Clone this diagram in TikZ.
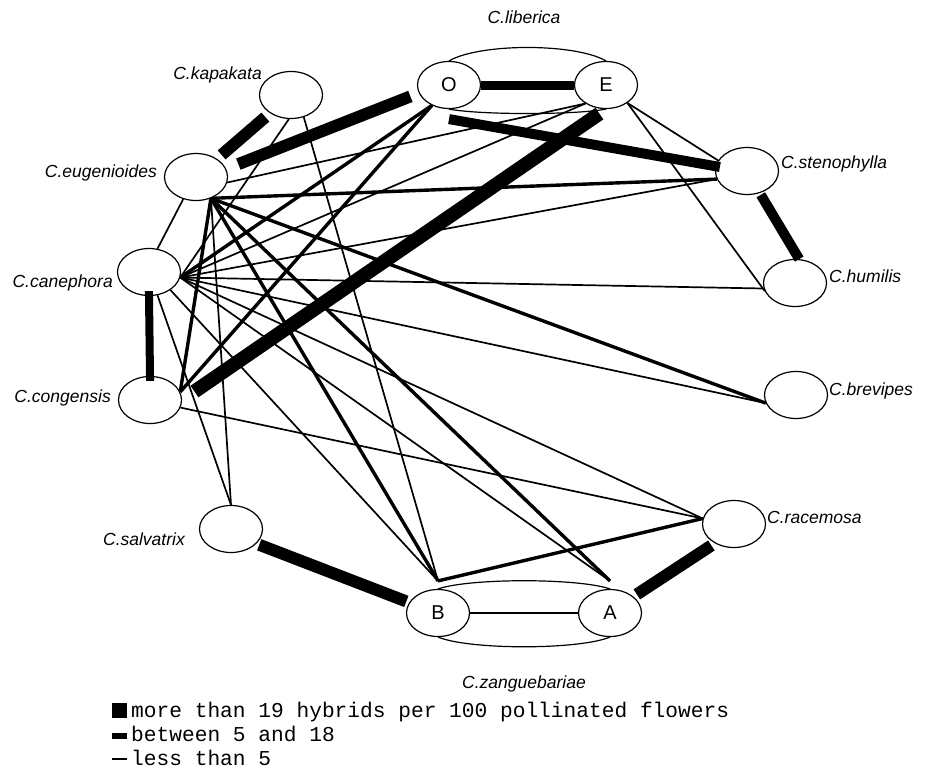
\documentclass[tikz,border=0pt]{standalone}
\usepackage{fontspec}
\usetikzlibrary{shapes.geometric,backgrounds}
\newfontfamily\labfont{Liberation Sans}
\newfontfamily\keyfont{Liberation Mono}

\begin{document}
\begin{tikzpicture}[x=1pt, y=-1pt,
  sp/.style={draw, ellipse, minimum width=63pt, minimum height=47pt, inner sep=0pt,
    line width=1.2pt, fill=white, font=\labfont\fontsize{20}{20}\selectfont},
  lab/.style={inner sep=0pt, font=\labfont\itshape\fontsize{17.5}{17.5}\selectfont},
  key/.style={inner sep=0pt, anchor=base west, font=\keyfont\fontsize{21.2}{21.2}\selectfont},
  grp/.style={line width=1.2pt},
  lowhyb/.style={line width=1.7pt},
  midhyb/.style={line width=3.4pt},
  highhyb/.style={line width=11pt},
]
\useasboundingbox (0,0) rectangle (933,779);

% --- Species (ellipses) ---
\node[sp] (kapakata) at (291,95) {};
\node[sp] (O) at (449,85) {O};
\node[sp] (E) at (606,85) {E};
\node[sp] (eugenioides) at (196,177) {};
\node[sp] (canephora) at (149,272) {};
\node[sp] (congensis) at (150,400) {};
\node[sp] (salvatrix) at (231,529) {};
\node[sp] (B) at (438,613) {B};
\node[sp] (A) at (610,613) {A};
\node[sp] (racemosa) at (734,524) {};
\node[sp] (brevipes) at (796,395) {};
\node[sp] (humilis) at (795,283) {};
\node[sp] (stenophylla) at (747,171) {};

\coordinate (B-in) at ([yshift=8pt]B.north);
\coordinate (A-in) at ([yshift=8pt]A.north);

% --- Labels ---
\node[lab, anchor=base] (liberica-lab) at (524,23) {C.liberica};
\node[lab, anchor=base east] (kapakata-lab) at (262,79) {C.kapakata};
\node[lab, anchor=base east] (eugenioides-lab) at (157,177) {C.eugenioides};
\node[lab, anchor=base east] (canephora-lab) at (113,287) {C.canephora};
\node[lab, anchor=base east] (congensis-lab) at (111,402) {C.congensis};
\node[lab, anchor=base east] (salvatrix-lab) at (185,545) {C.salvatrix};
\node[lab, anchor=base west] (stenophylla-lab) at (781,168) {C.stenophylla};
\node[lab, anchor=base west] (humilis-lab) at (829,282) {C.humilis};
\node[lab, anchor=base west] (brevipes-lab) at (829,395) {C.brevipes};
\node[lab, anchor=base west] (racemosa-lab) at (767,523) {C.racemosa};
\node[lab, anchor=base] (zanguebariae-lab) at (524,688) {C.zanguebariae};

\begin{pgfonlayer}{background}
% --- Group outlines ---
\draw[grp] (O.north) .. controls (480,43) and (575,43) .. (E.north);
\draw[grp] (O.south) .. controls (480,115) and (575,115) .. (E.south);
\draw[grp] (B.north) .. controls (470,578) and (578,578) .. (A.north);
\draw[grp] (B.south) .. controls (470,650) and (578,650) .. (A.south);

% --- Between 5 and 18 ---
\draw[midhyb] (eugenioides.305) -- (stenophylla.195);
\draw[midhyb] (eugenioides.305) -- (brevipes.195);
\draw[midhyb] (eugenioides.305) -- (A-in);
\draw[midhyb] (eugenioides.305) -- (B-in);
\draw[midhyb] (eugenioides.305) -- (congensis.15);
\draw[midhyb] (B-in) -- (racemosa.170);
\draw[midhyb] (O.230) -- (canephora.350);
\draw[midhyb] (O.230) -- (congensis.15);

% --- Less than 5 ---
\draw[lowhyb] (canephora.350) -- (kapakata.265);
\draw[lowhyb] (kapakata.300) -- (B-in);
\draw[lowhyb] (eugenioides.350) -- (E.222);
\draw[lowhyb] (eugenioides.240) -- (canephora.70);
\draw[lowhyb] (eugenioides.305) -- (salvatrix.north);
\draw[lowhyb] (canephora.350) -- (E.222);
\draw[lowhyb] (canephora.350) -- (stenophylla.195);
\draw[lowhyb] (canephora.350) -- (humilis.190);
\draw[lowhyb] (canephora.350) -- (brevipes.195);
\draw[lowhyb] (canephora.350) -- (racemosa.170);
\draw[lowhyb] (canephora.350) -- (A-in);
\draw[lowhyb] (canephora.320) -- (B-in);
\draw[lowhyb] (canephora.290) -- (salvatrix.north);
\draw[lowhyb] (congensis.346) -- (racemosa.170);
\draw[lowhyb] (E.320) -- (stenophylla.160);
\draw[lowhyb] (E.320) -- (humilis.195);
\draw[lowhyb] (B.east) -- (A.west);
\end{pgfonlayer}

% --- More than 19 ---
\draw[highhyb, line width=9pt] (O.east) -- (E.west);
\draw[highhyb, line width=12pt, shorten <=6pt, shorten >=6pt] (kapakata) -- (eugenioides);
\draw[highhyb, line width=12pt, shorten <=13pt, shorten >=9pt] (eugenioides.15) -- (O.195);
\draw[highhyb, line width=10pt] ([yshift=-10pt]O.south) -- ([xshift=5pt,yshift=4pt]stenophylla.west);
\draw[highhyb, line width=14pt, shorten <=8pt, shorten >=15pt] (E.south) -- (congensis.east);
\draw[highhyb, line width=10pt, shorten <=2pt] (stenophylla.300) -- (humilis.80);
\draw[highhyb, line width=8pt, shorten <=-5pt, shorten >=-5pt] (canephora.south) -- (congensis.north);
\draw[highhyb, line width=12pt, shorten <=3pt, shorten >=3pt] (salvatrix.330) -- (B.160);
\draw[highhyb, line width=12pt, shorten <=4pt, shorten >=4pt] (A.35) -- (racemosa.225);

% --- Legend ---
\fill (112,703) rectangle (127,718);
\fill (112,733) rectangle (127,739);
\draw[lowhyb] (112,759) -- (127,759);
\node[key] (key-high) at (131,717) {more than 19 hybrids per 100 pollinated flowers};
\node[key] (key-mid) at (131,741) {between 5 and 18};
\node[key] (key-low) at (131,765) {less than 5};

\end{tikzpicture}
\end{document}
